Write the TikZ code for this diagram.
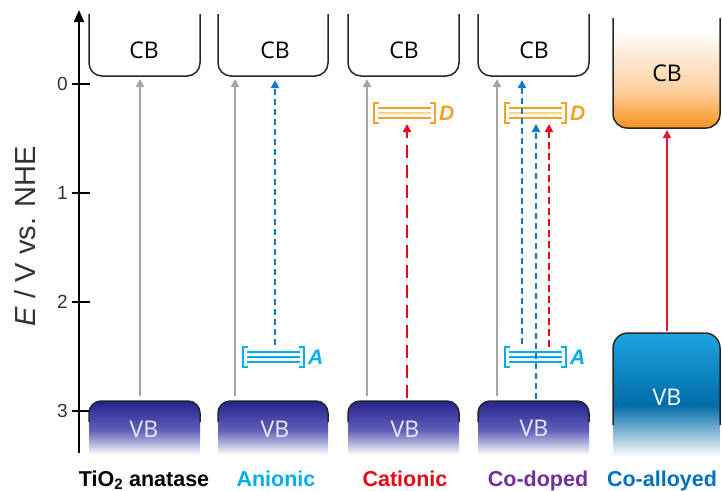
\documentclass[tikz,border=0pt]{standalone}
\usepackage{fontspec}
\setmainfont{Liberation Sans}
\newfontfamily\bandfont{Open Sans}
\usepackage{tikz}
\usetikzlibrary{arrows.meta}

\definecolor{vbtop}{RGB}{35,35,140}
\definecolor{vbmid}{RGB}{95,95,185}
\definecolor{cbor}{RGB}{247,146,30}
\definecolor{cbormid}{RGB}{252,208,160}
\definecolor{alvtop}{RGB}{30,165,225}
\definecolor{alvmid}{RGB}{0,108,168}
\definecolor{arrgray}{RGB}{165,165,165}
\definecolor{dblue}{RGB}{20,120,200}
\definecolor{dred}{RGB}{230,10,20}
\definecolor{alred}{RGB}{230,20,50}
\definecolor{lvorange}{RGB}{245,160,40}
\definecolor{lvyellow}{RGB}{252,215,120}
\definecolor{lvcyan}{RGB}{0,174,239}
\definecolor{txtpurple}{RGB}{112,48,160}
\definecolor{txtblue}{RGB}{0,112,192}
\definecolor{axgray}{RGB}{50,50,50}

\newcommand{\fsz}[1]{\fontsize{#1}{#1}\selectfont}
% defect level: name, left x, centre y, colour, label, middle line colour
\newcommand{\dlevel}[6]{%
  \draw[#4, line width=2.6pt] (#2+5,#3-10) -- (#2,#3-10) -- (#2,#3+10) -- (#2+5,#3+10)
    (#2+56,#3-10) -- (#2+61,#3-10) -- (#2+61,#3+10) -- (#2+56,#3+10);
  \draw[#4, line width=1.4pt] (#2+4,#3-5) -- (#2+57,#3-5) (#2+4,#3+5) -- (#2+57,#3+5);
  \draw[#6, line width=1.4pt] (#2+4,#3) -- (#2+57,#3);
  \node[lvlabel, text=#4, anchor=west] (#1) at (#2+65,#3) {#5};}

\begin{document}
\begin{tikzpicture}[x=1pt, y=-1pt, >={Triangle[width=8pt,length=8pt]},
    bandline/.style={line width=1.5pt, rounded corners=13pt, draw=black!85},
    bandlabel/.style={font=\bandfont\fsz{23}},
    grayarr/.style={->, draw=arrgray, line width=2pt},
    bluearr/.style={->, draw=dblue, line width=2.2pt, dash pattern=on 6pt off 4pt},
    redarr/.style={->, draw=dred, line width=2.6pt, dash pattern=on 13pt off 7pt},
    lvlabel/.style={font=\bfseries\itshape\fsz{21}, inner sep=0pt},
    ticklabel/.style={font=\fsz{19}, text=axgray, inner sep=0pt, anchor=east},
    botlabel/.style={font=\bfseries\fsz{21.5}, anchor=base, inner sep=0pt}]
    \useasboundingbox (0,0) rectangle (722,490);

    % energy axis
    \coordinate (ax0) at (79,453);
    \coordinate (ax1) at (79,10);
    \draw [-{Triangle[width=10pt,length=12pt]}, line width=2pt] (ax0) -- (ax1);
    \draw [line width=1.8pt] (72,84) -- (90,84) (72,193) -- (90,193)
        (72,302) -- (90,302) (72,411) -- (90,411);
    \node[ticklabel] (t0) at (68,84) {0};
    \node[ticklabel] (t1) at (68,193) {1};
    \node[ticklabel] (t2) at (68,302) {2};
    \node[ticklabel] (t3) at (68,411) {3};
    \node[rotate=90, anchor=base, font=\fsz{29}, text=axgray, inner sep=0pt] (ylab) at (35,236)
        {\textit{E} / V vs. NHE};

    % conduction bands
    \draw[bandline] (89,14) -- (89,76) -- (200,76) -- (200,14);
    \draw[bandline] (218,14) -- (218,76) -- (328,76) -- (328,14);
    \draw[bandline] (348,14) -- (348,76) -- (459,76) -- (459,14);
    \draw[bandline] (478,14) -- (478,76) -- (589,76) -- (589,14);
    \begin{scope}
        \clip[rounded corners=14pt] (613,-20) rectangle (720,128);
        \shade[top color=white, bottom color=cbormid] (613,30) rectangle (720,90);
        \shade[top color=cbormid, bottom color=cbor] (613,90) rectangle (720,128);
    \end{scope}
    \draw[bandline, rounded corners=14pt] (613,18) -- (613,128) -- (720,128) -- (720,18);

    % valence bands
    \begin{scope}
        \clip[rounded corners=12pt] (89,401) rectangle (200,480)
            (218,401) rectangle (328,480) (348,401) rectangle (459,480)
            (478,401) rectangle (589,480);
        \shade[top color=vbtop, bottom color=vbmid] (89,401) rectangle (589,430);
        \shade[top color=vbmid, bottom color=white] (89,430) rectangle (589,455);
    \end{scope}
    \draw[bandline, rounded corners=12pt] (89,422) -- (89,401) -- (200,401) -- (200,422);
    \draw[bandline, rounded corners=12pt] (218,422) -- (218,401) -- (328,401) -- (328,422);
    \draw[bandline, rounded corners=12pt] (348,422) -- (348,401) -- (459,401) -- (459,422);
    \draw[bandline, rounded corners=12pt] (478,422) -- (478,401) -- (589,401) -- (589,422);
    \begin{scope}
        \clip[rounded corners=15pt] (613,333) rectangle (720,480);
        \shade[top color=alvtop, bottom color=alvmid] (613,333) rectangle (720,405);
        \shade[top color=alvmid, bottom color=white] (613,405) rectangle (720,457);
    \end{scope}
    \draw[bandline, rounded corners=15pt] (613,425) -- (613,333) -- (720,333) -- (720,425);

    % band labels
    \node[bandlabel] (cb1) at (144,50) {CB};
    \node[bandlabel] (cb2) at (275,50) {CB};
    \node[bandlabel] (cb3) at (404,50) {CB};
    \node[bandlabel] (cb4) at (534,50) {CB};
    \node[bandlabel] (cb5) at (667,73) {CB};
    \node[bandlabel, text=white!92!blue] (vb1) at (144,429) {VB};
    \node[bandlabel, text=white!92!blue] (vb2) at (275,429) {VB};
    \node[bandlabel, text=white!92!blue] (vb3) at (405,429) {VB};
    \node[bandlabel, text=white!92!blue] (vb4) at (534,428) {VB};
    \node[bandlabel, text=white] (vb5) at (667,397) {VB};

    % acceptor and donor levels
    \dlevel{la2}{243}{357}{lvcyan}{A}{lvcyan}
    \dlevel{ld3}{374}{113}{lvorange}{D}{lvyellow}
    \dlevel{ld4}{505}{113}{lvorange}{D}{lvyellow}
    \dlevel{la4}{505}{357}{lvcyan}{A}{lvcyan}

    % transitions
    \coordinate (g1a) at (140,396); \coordinate (g1b) at (140,79);
    \coordinate (g2a) at (235,396); \coordinate (g2b) at (235,79);
    \coordinate (g3a) at (367,396); \coordinate (g3b) at (367,79);
    \coordinate (g4a) at (497,396); \coordinate (g4b) at (497,79);
    \coordinate (b2a) at (275,345); \coordinate (b2b) at (275,80);
    \coordinate (r3a) at (407,398); \coordinate (r3b) at (407,124);
    \coordinate (b4a) at (522,344); \coordinate (b4b) at (522,80);
    \coordinate (b4c) at (536,399); \coordinate (b4d) at (536,124);
    \coordinate (r4a) at (549,347); \coordinate (r4b) at (549,124);
    \coordinate (r5a) at (667,331); \coordinate (r5b) at (667,130);
    \draw[grayarr] (g1a) -- (g1b);
    \draw[grayarr] (g2a) -- (g2b);
    \draw[grayarr] (g3a) -- (g3b);
    \draw[grayarr] (g4a) -- (g4b);
    \draw[bluearr] (b2a) -- (b2b);
    \draw[redarr] (r3a) -- (r3b);
    \draw[bluearr] (b4a) -- (b4b);
    \draw[bluearr] (b4c) -- (b4d);
    \draw[redarr, line width=2.2pt, dash pattern=on 7pt off 4pt] (r4a) -- (r4b);
    \draw[->, draw=alred, line width=1.8pt] (r5a) -- (r5b);

    % material labels
    \node[botlabel] (m1) at (144,486) {TiO\textsubscript{2} anatase};
    \node[botlabel, text=lvcyan] (m2) at (276,486) {Anionic};
    \node[botlabel, text=dred] (m3) at (405,486) {Cationic};
    \node[botlabel, text=txtpurple] (m4) at (538,486) {Co-doped};
    \node[botlabel, text=txtblue] (m5) at (662,486) {Co-alloyed};
\end{tikzpicture}
\end{document}
